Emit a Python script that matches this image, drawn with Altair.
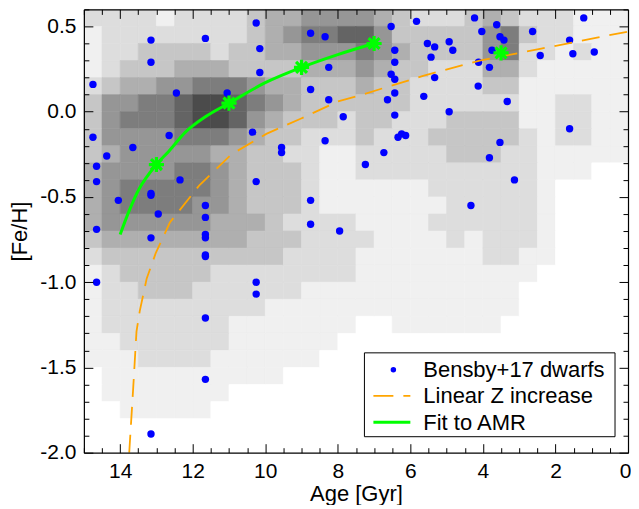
import altair as alt
import pandas as pd

# ---------------- data ----------------
# heat-map grid: column edges in age (Gyr), row edges in [Fe/H]
age_edges = [15.0, 14.5, 14.0, 13.5, 13.0, 12.5, 12.0, 11.5, 11.0, 10.5, 10.0,
             9.5, 9.0, 8.5, 8.0, 7.5, 7.0, 6.5, 6.0, 5.5, 5.0, 4.5, 4.0,
             3.5, 3.0, 2.5, 2.0, 1.5, 1.0, 0.5, 0.0]
feh_edges = [0.6, 0.5, 0.4, 0.3, 0.2, 0.1, 0.0, -0.1, -0.2, -0.3, -0.4, -0.5,
             -0.6, -0.7, -0.8, -0.9, -1.0, -1.1, -1.2, -1.3, -1.4, -1.5, -1.6,
             -1.7, -1.8, -1.9, -2.0]
# darkness of each cell (0 = white ... 9 = darkest), rows top->bottom, cols age 15->0
density = [
    [2,2,2,2,1,2,2,2,2,3,4,4,5,5,5, 5,4,3,2,2,2,3,4,3,2,2,2,1,1,1],
    [1,2,2,2,2,2,2,2,2,3,4,5,6,6,7, 7,5,3,3,3,3,3,5,6,3,2,2,1,1,1],
    [1,2,2,3,3,3,3,2,3,3,4,4,5,5,5, 6,5,4,3,3,3,3,5,6,2,2,1,2,1,1],
    [1,2,3,3,3,4,4,4,3,3,3,3,4,4,4, 5,4,3,3,2,2,2,4,4,2,1,1,1,1,1],
    [2,3,4,4,5,5,6,6,6,5,4,4,3,3,3, 4,3,3,2,2,2,2,3,3,1,1,1,1,1,1],
    [3,5,5,6,6,7,8,8,7,6,5,4,3,3,3, 3,3,3,2,2,2,2,2,2,1,1,2,2,1,1],
    [3,5,6,6,6,7,8,8,7,5,4,3,3,3,2, 3,3,2,2,2,3,3,3,3,1,1,2,2,1,1],
    [3,5,5,5,5,6,6,6,5,4,3,3,2,2,2, 3,2,2,2,3,3,3,3,3,2,1,2,2,1,1],
    [3,4,5,5,5,5,5,4,4,3,3,2,2,1,1, 2,2,2,2,2,3,3,3,2,2,1,1,1,1,1],
    [4,5,5,5,5,6,6,5,4,3,3,3,2,1,1, 2,2,2,2,2,2,2,2,2,2,1,1,1,0,0],
    [4,5,6,6,6,6,6,5,4,3,3,3,2,1,1, 1,1,1,1,2,2,2,2,2,2,1,0,0,0,0],
    [4,5,6,6,6,6,5,5,4,3,3,3,2,1,1, 1,1,1,1,1,2,2,2,2,2,1,0,0,0,0],
    [4,5,5,5,5,5,5,4,4,4,3,2,2,2,2, 1,1,1,1,2,2,2,2,2,2,1,0,0,0,0],
    [3,4,4,4,4,4,4,4,4,3,3,3,2,2,2, 2,1,1,1,1,2,1,2,2,2,1,0,0,0,0],
    [2,3,3,3,3,3,3,3,3,3,3,2,2,2,2, 1,1,1,1,1,1,1,2,2,1,1,0,0,0,0],
    [1,2,3,3,3,3,3,2,2,2,2,2,2,2,2, 1,1,1,1,1,1,1,1,1,1,0,0,0,0,0],
    [1,2,2,3,3,3,2,2,2,2,2,2,1,1,1, 1,1,1,1,1,1,1,1,1,0,0,0,0,0,0],
    [1,2,2,2,2,2,2,2,2,2,1,1,1,1,1, 1,1,1,1,1,1,1,1,1,0,0,0,0,0,0],
    [1,2,2,2,2,2,2,2,1,1,1,1,1,1,1, 0,0,1,1,1,1,1,1,0,0,0,0,0,0,0],
    [1,1,2,2,2,2,2,2,1,1,1,1,1,1,0, 0,0,0,0,0,0,0,0,0,0,0,0,0,0,0],
    [1,1,1,2,2,2,2,1,1,1,1,1,1,0,0, 0,0,0,0,0,0,0,0,0,0,0,0,0,0,0],
    [0,1,1,1,1,1,1,1,1,1,1,0,0,0,0, 0,0,0,0,0,0,0,0,0,0,0,0,0,0,0],
    [0,1,1,1,1,1,1,1,0,0,0,0,0,0,0, 0,0,0,0,0,0,0,0,0,0,0,0,0,0,0],
    [0,0,1,1,1,1,1,0,0,0,0,0,0,0,0, 0,0,0,0,0,0,0,0,0,0,0,0,0,0,0],
    [0,0,0,0,0,0,0,0,0,0,0,0,0,0,0, 0,0,0,0,0,0,0,0,0,0,0,0,0,0,0],
    [0,0,0,0,0,0,0,0,0,0,0,0,0,0,0, 0,0,0,0,0,0,0,0,0,0,0,0,0,0,0],
]

# Bensby+17 dwarfs
bensby_age = [10.25, 13.15, 11.65, 8.75, 8.35, 10.15, 13.15, 10.15, 8.25, 14.75,
              12.45, 11.05, 8.75, 8.25, 7.85, 14.75, 12.65, 10.35, 8.35, 13.65,
              9.55, 9.55, 14.37, 14.65, 14.65, 12.35, 10.25, 13.15, 13.15, 14.05,
              8.75, 11.65, 12.95, 11.65, 8.75, 14.65, 7.95,
              13.15, 11.65, 11.65, 11.65, 11.65, 14.65, 10.25, 10.25, 11.65, 11.65, 13.15,
              4.23, 1.22, 5.83, 6.53, 3.62, 4.03, 2.63, 3.53, 3.42, 1.61,
              5.53, 5.33, 4.93, 4.83, 6.43, 3.75, 2.42, 1.52, 0.93, 6.43,
              5.43, 4.12, 3.82, 6.53, 6.43, 5.33, 6.43, 6.63, 5.63, 4.13,
              3.33, 4.93, 6.43, 1.61, 6.24, 6.13, 6.34, 3.53, 6.73, 3.82,
              7.24, 3.13, 4.33]
bensby_feh = [0.52, 0.42, 0.43, 0.46, 0.44, 0.37, 0.29, 0.23, 0.26, 0.16,
              0.11, 0.11, 0.13, 0.07, -0.03, -0.15, -0.14, -0.12, -0.17, -0.21,
              -0.21, -0.24, -0.26, -0.32, -0.41, -0.40, -0.41, -0.48, -0.49, -0.52,
              -0.52, -0.55, -0.60, -0.62, -0.66, -0.69, -0.70,
              -0.74, -0.72, -0.74, -0.84, -0.85, -1.00, -1.00, -1.07, -1.21, -1.57, -1.89,
              0.55, 0.55, 0.53, 0.50, 0.51, 0.47, 0.47, 0.44, 0.42, 0.42,
              0.40, 0.38, 0.41, 0.36, 0.36, 0.36, 0.33, 0.34, 0.35, 0.29,
              0.32, 0.29, 0.26, 0.22, 0.19, 0.20, 0.11, 0.07, 0.09, 0.15,
              0.06, 0.00, -0.02, -0.10, -0.13, -0.14, -0.15, -0.18, -0.24, -0.27,
              -0.31, -0.40, -0.55]

# Linear Z increase (orange dashed)
lin_age = [13.75, 13.64, 13.55, 13.46, 13.27, 13.02, 12.63, 11.81, 10.93, 9.97,
           9.01, 8.0, 7.48, 5.65, 4.09, 2.39, 0.0]
lin_feh = [-2.0, -1.62, -1.29, -1.17, -0.98, -0.83, -0.65, -0.43, -0.25, -0.13,
           -0.04, 0.06, 0.09, 0.21, 0.30, 0.37, 0.47]

# Fit to AMR (green)
fit_age = [14.0, 13.75, 13.47, 13.29, 13.0, 12.65, 12.2, 11.65, 11.0, 10.0, 9.0, 8.0, 7.0]
fit_feh = [-0.72, -0.58, -0.45, -0.39, -0.31, -0.23, -0.12, -0.03, 0.05, 0.17, 0.26, 0.335, 0.40]

# green asterisks
star_age = [13.0, 11.0, 9.0, 7.0, 3.5]
star_feh = [-0.31, 0.05, 0.26, 0.40, 0.345]

legend_labels = ["Bensby+17 dwarfs", "Linear Z increase", "Fit to AMR"]

# ---------------- tables ----------------
cells = []
for j, row in enumerate(density):
    for i, d in enumerate(row):
        cells.append({"x0": age_edges[i], "x1": age_edges[i + 1],
                      "y0": feh_edges[j], "y1": feh_edges[j + 1], "d": d})
heat_df = pd.DataFrame(cells)
pts_df = pd.DataFrame({"age": bensby_age, "feh": bensby_feh})
lin_df = pd.DataFrame({"age": lin_age, "feh": lin_feh})
fit_df = pd.DataFrame({"age": fit_age, "feh": fit_feh})
star_df = pd.DataFrame({"age": star_age, "feh": star_feh})
one = pd.DataFrame({"a": [0]})

# ---------------- scales & axes ----------------
FONT = "Liberation Sans"
XS = alt.Scale(domain=[15, 0], nice=False, zero=False)
YS = alt.Scale(domain=[-2.0, 0.6], nice=False, zero=False)

x_major = [14, 12, 10, 8, 6, 4, 2, 0]
x_minor = [v / 2 for v in range(0, 31) if v % 4 != 0]
y_major = [0.5, 0.0, -0.5, -1.0, -1.5, -2.0]
y_minor = [round(v / 10, 1) for v in range(-20, 7) if v % 5 != 0]


def inward(orient, values, size):
    return alt.Axis(orient=orient, values=values, labels=False, domain=False,
                    grid=False, ticks=True, tickSize=size, offset=-size,
                    tickColor="black", tickWidth=1, title=None, zindex=2)


def frame(orient):
    return alt.Axis(orient=orient, labels=False, ticks=False, domain=True,
                    domainColor="black", domainWidth=1.2, grid=False,
                    title=None, zindex=2)


main_x = alt.Axis(orient="bottom", values=x_major, format="d", ticks=False,
                  domain=True, domainColor="black", domainWidth=1.2, grid=False,
                  labelFontSize=21, labelPadding=8, labelFlush=True,
                  labelFlushOffset=3, labelColor="black",
                  title="Age [Gyr]", titleFontSize=22, titleFontWeight="normal",
                  titlePadding=2, titleColor="black", zindex=2)
main_y = alt.Axis(orient="left", values=y_major, format=".1f", ticks=False,
                  labelExpr="replace(datum.label, '\u2212', '-')",
                  domain=True, domainColor="black", domainWidth=1.2, grid=False,
                  labelFontSize=21, labelPadding=8, labelColor="black",
                  title="[Fe/H]", titleFontSize=22, titleFontWeight="normal",
                  titlePadding=8, titleColor="black", zindex=2)

gray = alt.Scale(type="pow", exponent=1.25, domain=[0, 9], range=["#ffffff", "#333333"])

heat = alt.Chart(heat_df).mark_rect(strokeWidth=0.6).encode(
    x=alt.X("x0:Q", scale=XS, axis=main_x), x2="x1:Q",
    y=alt.Y("y0:Q", scale=YS, axis=main_y), y2="y1:Q",
    color=alt.Color("d:Q", scale=gray, legend=None),
    stroke=alt.Stroke("d:Q", scale=gray, legend=None),
)

pts = alt.Chart(pts_df).mark_circle(color="#0000ff", size=55, opacity=1).encode(
    x=alt.X("age:Q", scale=XS, axis=inward("bottom", x_major, 9)),
    y=alt.Y("feh:Q", scale=YS, axis=inward("left", y_major, 9)),
)

lin = alt.Chart(lin_df).mark_line(color="#ffa500", strokeWidth=1.8,
                                  strokeDash=[18, 10], clip=True).encode(
    x=alt.X("age:Q", scale=XS, axis=inward("bottom", x_minor, 5)),
    y=alt.Y("feh:Q", scale=YS, axis=inward("left", y_minor, 5)),
)

fit = alt.Chart(fit_df).mark_line(color="#00ff00", strokeWidth=3,
                                  interpolate="monotone").encode(
    x=alt.X("age:Q", scale=XS, axis=inward("top", x_major, 9)),
    y=alt.Y("feh:Q", scale=YS, axis=inward("right", y_major, 9)),
)

ASTERISK = "M-1,0L1,0M0,-1L0,1M-0.72,-0.72L0.72,0.72M-0.72,0.72L0.72,-0.72"
stars = alt.Chart(star_df).mark_point(shape=ASTERISK, filled=False, color="#00ff00",
                                      strokeWidth=3.2, size=230, opacity=1).encode(
    x=alt.X("age:Q", scale=XS, axis=inward("top", x_minor, 5)),
    y=alt.Y("feh:Q", scale=YS, axis=inward("right", y_minor, 5)),
)

border = alt.Chart(star_df).mark_point(opacity=0).encode(
    x=alt.X("age:Q", scale=XS, axis=frame("top")),
    y=alt.Y("feh:Q", scale=YS, axis=frame("right")),
)

# ---------------- legend box ----------------
leg_box = alt.Chart(one).mark_rect(fill="white", stroke="black", strokeWidth=1).encode(
    x=alt.value(281), x2=alt.value(532), y=alt.value(344), y2=alt.value(428))
leg_dot = alt.Chart(one).mark_circle(color="#0000ff", size=30, opacity=1).encode(
    x=alt.value(310), y=alt.value(361))
leg_lin = alt.Chart(one).mark_rule(color="#ffa500", strokeWidth=1.8,
                                   strokeDash=[20, 10]).encode(
    x=alt.value(290), x2=alt.value(327), y=alt.value(387))
leg_fit = alt.Chart(one).mark_rule(color="#00ff00", strokeWidth=3).encode(
    x=alt.value(290), x2=alt.value(327), y=alt.value(413.5))
leg_texts = [
    alt.Chart(one).mark_text(align="left", baseline="alphabetic", fontSize=22,
                             font=FONT, color="black").encode(
        x=alt.value(340), y=alt.value(yb), text=alt.value(lab))
    for lab, yb in zip(legend_labels, [368, 394.5, 421.5])
]

chart = alt.layer(
    heat, pts, lin, fit, stars, border,
    leg_box, leg_dot, leg_lin, leg_fit, *leg_texts
).resolve_axis(
    x="independent", y="independent"
).properties(
    width=545, height=444, padding=0, background="white"
).configure_view(
    stroke=None
).configure_axis(
    labelFont=FONT, titleFont=FONT
)

chart.save("out.html", embed_options={"renderer": "svg", "actions": False})
